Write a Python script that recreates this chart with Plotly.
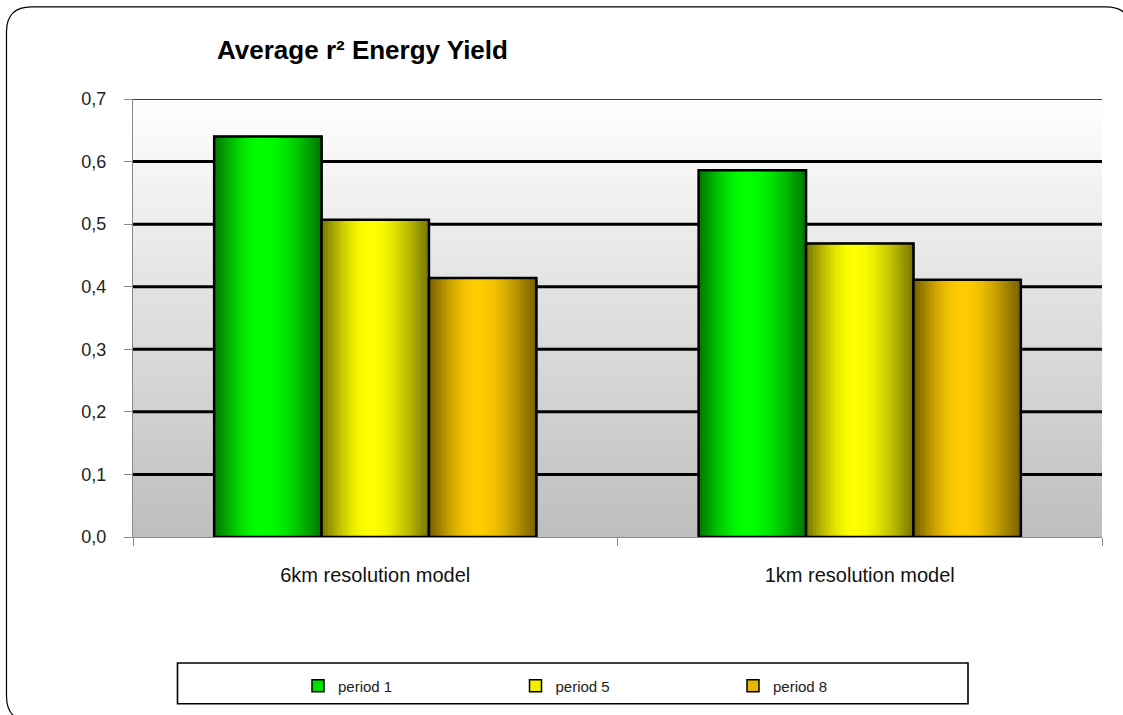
import base64
import math
import struct
import zlib

import plotly.graph_objects as go

# ---- data -------------------------------------------------------------
categories = ["6km resolution model", "1km resolution model"]
series_names = ["period 1", "period 5", "period 8"]
period_1 = [0.640, 0.586]
period_5 = [0.507, 0.469]
period_8 = [0.414, 0.411]
y_ticks = [0.0, 0.1, 0.2, 0.3, 0.4, 0.5, 0.6, 0.7]

# ---- styling ----------------------------------------------------------
W, H = 1123, 715
M_L, M_R, M_T, M_B = 133, 21, 99, 176
PLOT_W = W - M_L - M_R
PLOT_H = H - M_T - M_B

FONT = "Arial, Liberation Sans, sans-serif"
peak_colors = [(0, 255, 0), (255, 255, 0), (255, 204, 0)]
legend_colors = ["#00e000", "#f2f200", "#e8b800"]

GROUP_W = 0.665          # share of a category occupied by the bar cluster
BAR_W = GROUP_W / 3
N_STRIPS = 32


def px_x(px):
    return (px - M_L) / PLOT_W


def px_y(py):
    return (M_T + PLOT_H - py) / PLOT_H


def shade(t):
    """Cylinder-like brightness profile across a bar (0 = left edge)."""
    peak = 0.45
    u = t / peak if t <= peak else (1 - t) / (1 - peak)
    return 0.47 + 0.53 * math.sin(u * math.pi / 2) ** 1.1


def gradient_png(top, bottom, n=256):
    rows = b""
    for i in range(n):
        f = i / (n - 1)
        c = [round(top[k] + (bottom[k] - top[k]) * f) for k in range(3)]
        rows += b"\x00" + bytes(c) * 4

    def chunk(tag, data):
        return (struct.pack(">I", len(data)) + tag + data
                + struct.pack(">I", zlib.crc32(tag + data) & 0xFFFFFFFF))

    png = (b"\x89PNG\r\n\x1a\n"
           + chunk(b"IHDR", struct.pack(">IIBBBBB", 4, n, 8, 2, 0, 0, 0))
           + chunk(b"IDAT", zlib.compress(rows))
           + chunk(b"IEND", b""))
    return "data:image/png;base64," + base64.b64encode(png).decode()


fig = go.Figure()

all_series = [period_1, period_5, period_8]
for i, (name, values) in enumerate(zip(series_names, all_series)):
    base_off = -GROUP_W / 2 + i * BAR_W
    # solid entry (provides the legend swatch)
    fig.add_trace(go.Bar(
        x=categories, y=values, name=name,
        offset=base_off, width=BAR_W,
        marker=dict(color=legend_colors[i], line=dict(color="black", width=1.5)),
        showlegend=True, hoverinfo="skip",
    ))
    # shaded vertical strips
    sw = BAR_W / N_STRIPS
    for k in range(N_STRIPS):
        f = shade((k + 0.5) / N_STRIPS)
        r, g, b = (round(c * f) for c in peak_colors[i])
        fig.add_trace(go.Bar(
            x=categories, y=values, offset=base_off + k * sw, width=sw + 0.002,
            marker=dict(color=f"rgb({r},{g},{b})", line=dict(width=0)),
            showlegend=False, hoverinfo="skip",
        ))
    # outline
    fig.add_trace(go.Bar(
        x=categories, y=values, offset=base_off, width=BAR_W,
        marker=dict(color="rgba(0,0,0,0)", line=dict(color="black", width=2.5)),
        showlegend=False, hovertemplate=name + ": %{y}<extra></extra>",
    ))

shapes = []
# horizontal grid lines
for v in y_ticks[1:]:
    shapes.append(dict(
        type="line", xref="paper", yref="y", x0=0, x1=1, y0=v, y1=v,
        line=dict(color="black", width=1.5 if v == y_ticks[-1] else 3),
        layer="below",
    ))

# rounded outer frame of the chart (right and bottom sides run past the page)
x0, y0, x1, y1, rad = px_x(6.5), px_y(6.5), px_x(1131), px_y(724), 25
rx, ry = rad / PLOT_W, rad / PLOT_H
frame = (f"M {x0 + rx},{y0} L {x1 - rx},{y0} Q {x1},{y0} {x1},{y0 - ry} "
         f"L {x1},{y1 + ry} Q {x1},{y1} {x1 - rx},{y1} "
         f"L {x0 + rx},{y1} Q {x0},{y1} {x0},{y1 + ry} "
         f"L {x0},{y0 - ry} Q {x0},{y0} {x0 + rx},{y0} Z")
shapes.append(dict(type="path", xref="paper", yref="paper", path=frame,
                   line=dict(color="black", width=1.2), layer="above"))

# legend frame
shapes.append(dict(type="rect", xref="paper", yref="paper",
                   x0=px_x(177.5), x1=px_x(968), y0=px_y(665.5), y1=px_y(706.5),
                   line=dict(color="black", width=1.6), layer="above"))

fig.update_layout(
    width=W, height=H,
    margin=dict(l=M_L, r=M_R, t=M_T, b=M_B),
    paper_bgcolor="white", plot_bgcolor="white",
    barmode="overlay",
    separators=", ",
    font=dict(family=FONT, color="#1a1a1a"),
    title=dict(
        text="Average r² Energy Yield",
        x=217 / W, xanchor="left", y=1 - 50 / H, yanchor="middle",
        font=dict(family=FONT, size=26, color="black", weight="bold"),
    ),
    xaxis=dict(
        type="category", range=[-0.5, 1.5], tickson="boundaries",
        ticks="outside", ticklen=8, tickcolor="#8a8a8a", tickwidth=1,
        showline=True, linecolor="#8a8a8a", linewidth=1,
        showgrid=False, zeroline=False,
        tickfont=dict(family=FONT, size=20, color="#111"),
        ticklabelstandoff=20,
    ),
    yaxis=dict(
        range=[0, 0.7], tickmode="array", tickvals=y_ticks, tickformat=".1f",
        ticks="outside", ticklen=8, tickcolor="#8a8a8a", tickwidth=1,
        showline=True, linecolor="#8a8a8a", linewidth=1,
        showgrid=False, zeroline=False,
        tickfont=dict(family=FONT, size=18, color="#222"),
        ticklabelstandoff=14,
    ),
    legend=dict(
        orientation="h", x=px_x(298), xanchor="left",
        y=px_y(672), yanchor="top",
        entrywidth=172.5, entrywidthmode="pixels",
        font=dict(family=FONT, size=15, color="#222"),
        bgcolor="rgba(0,0,0,0)", borderwidth=0,
        traceorder="normal",
    ),
    images=[dict(
        source=gradient_png((255, 255, 255), (190, 190, 190)),
        xref="paper", yref="paper", x=0, y=1, sizex=1, sizey=1,
        xanchor="left", yanchor="top", sizing="stretch", layer="below",
    )],
    shapes=shapes,
    showlegend=True,
)

fig.write_html("out.html")
